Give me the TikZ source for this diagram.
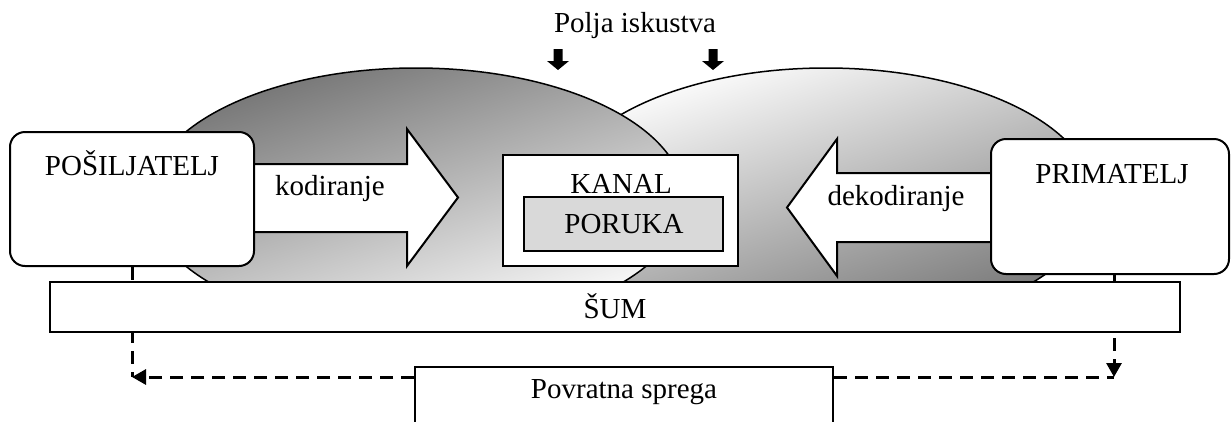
\documentclass[tikz,border=0pt]{standalone}
\usepackage{fontspec}
\setmainfont{Liberation Serif}
\usetikzlibrary{shapes.geometric,arrows.meta}
\tikzset{
  txt/.style={font=\fontsize{29}{34}\selectfont, inner sep=0pt, anchor=base},
  field/.style={ellipse, draw, line width=1.5pt, minimum width=536pt, minimum height=262pt, inner sep=0pt},
  blockarrow/.style={draw, fill=white, line width=2pt, line join=miter},
  box/.style={draw, fill=white, line width=2pt, inner sep=0pt},
  rbox/.style={box, rounded corners=15pt},
  fb/.style={line width=3pt, dash pattern=on 13pt off 8pt},
  fbtip/.style={-{Triangle[length=14pt,width=15pt]}},
  downarr/.pic={\fill (-4.5,0) -- (4.5,0) -- (4.5,12) -- (11,12) -- (0,21) -- (-11,12) -- (-4.5,12) -- cycle;}
}
\begin{document}
\begin{tikzpicture}[x=1pt,y=-1pt]
\useasboundingbox (0,0) rectangle (1231,421);
\clip (0,0) rectangle (1231,421);

% fields of experience
\node[field, top color=white, bottom color=black!55, shading angle=18] (rE) at (826,199) {};
\node[field, top color=black!55, bottom color=white, shading angle=18] (lE) at (416,199) {};

\node[txt] (polja) at (635,32) {Polja iskustva};
\pic at (558,49) {downarr};
\pic at (713,49) {downarr};

% block arrows
\draw[blockarrow] (235,164) -- (407,164) -- (407,129) -- (458,197.5) -- (407,266) -- (407,232) -- (235,232) -- cycle;
\node[txt] (kod) at (330,195) {kodiranje};
\draw[blockarrow] (1000,173) -- (837,173) -- (837,139) -- (787,207.5) -- (837,276) -- (837,242) -- (1000,242) -- cycle;
\node[txt] (dek) at (896,205) {dekodiranje};

% channel and message
\node[box, minimum width=235pt, minimum height=111pt] (kanal) at (620.5,210.5) {};
\node[txt] (kanalT) at (621,193) {KANAL};
\node[box, fill=black!15, minimum width=199pt, minimum height=54pt] (poruka) at (623.5,224) {};
\node[txt] (porukaT) at (624,233) {PORUKA};

% sender and receiver
\node[rbox, minimum width=244pt, minimum height=134pt] (pos) at (132,199) {};
\node[txt] (posT) at (132,175) {POŠILJATELJ};
\node[rbox, minimum width=238pt, minimum height=135pt] (prim) at (1110,206.5) {};
\node[txt] (primT) at (1112,183) {PRIMATELJ};

% feedback
\coordinate (fl) at (132,377);
\coordinate (fr) at (1114,377);
\node[box, minimum width=418pt, minimum height=80pt] (pov) at (624,407) {};
\node[txt] (povT) at (624,398) {Povratna sprega};
\draw[fb] (pos.south) -- (fl);
\draw[fb, fbtip] (pov.west |- fl) -- (fl);
\draw[fb, fbtip] (prim.south -| fr) -- (fr);
\draw[fb] (pov.east |- fr) -- (fr);

% noise
\node[box, minimum width=1130pt, minimum height=50pt] (sum) at (615,307) {};
\node[txt] (sumT) at (615,318) {ŠUM};
\end{tikzpicture}
\end{document}
